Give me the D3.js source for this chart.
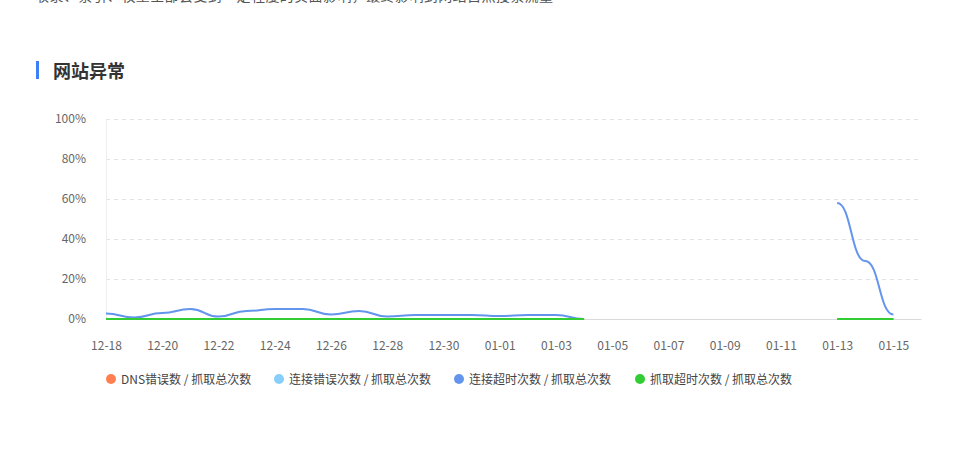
<!DOCTYPE html>
<html><head><meta charset="utf-8">
<script src="https://cdn.jsdelivr.net/npm/d3@7/dist/d3.min.js"></script>
<style>
html,body{margin:0;padding:0;background:#fff;}
svg{display:block;font-family:"Noto Sans CJK SC","Noto Sans",sans-serif;}
</style></head><body>
<svg id="c" width="979" height="457"></svg>
<script>
const categories = ["12-18","12-19","12-20","12-21","12-22","12-23","12-24","12-25","12-26","12-27","12-28","12-29","12-30","12-31","01-01","01-02","01-03","01-04","01-05","01-06","01-07","01-08","01-09","01-10","01-11","01-12","01-13","01-14","01-15","01-16"];
const dnsErr     = [0,0,0,0,0,0,0,0,0,0,0,0,0,0,0,0,0,0,null,null,null,null,null,null,null,null,0,0,0,null];
const connErr    = [0,0,0,0,0,0,0,0,0,0,0,0,0,0,0,0,0,0,null,null,null,null,null,null,null,null,0,0,0,null];
const connTimeout= [2.7,0.8,3,5,1.2,4,5,5,2.3,4,1.2,2,2,2,1.5,2,2,0,null,null,null,null,null,null,null,null,58,29,2.3,null];
const fetchTimeout=[0,0,0,0,0,0,0,0,0,0,0,0,0,0,0,0,0,0,null,null,null,null,null,null,null,null,0,0,0,null];
const yTicks = [0,20,40,60,80,100];
const seriesNames = ["DNS错误数 / 抓取总次数","连接错误次数 / 抓取总次数","连接超时次数 / 抓取总次数","抓取超时次数 / 抓取总次数"];
const seriesColors = ["#ff7f50","#87cefa","#6495ed","#32cd32"];
const title = "网站异常";
const topText = "收录、索引、权重全部会受到一定程度的负面影响，最终影响到网站自然搜索流量";

const svg = d3.select("#c");
const pLeft = 106, pRight = 921.5, pTop = 119, pBottom = 319;

// cut-off top text (the reference is scrolled so only its lower edge shows)
svg.append("text").attr("x",35).attr("y",1).attr("font-size",14).attr("fill","#555")
  .attr("textLength",518).attr("lengthAdjust","spacing").text(topText);

// title
svg.append("rect").attr("x",36).attr("y",61).attr("width",3).attr("height",18).attr("fill","#3d7ff6");
svg.append("text").attr("x",53).attr("y",78).attr("font-size",18).attr("font-weight","bold").attr("fill","#333").text(title);

const x = d3.scalePoint().domain(categories).range([pLeft, pRight]);
const y = d3.scaleLinear().domain([0,100]).range([pBottom, pTop]);

// grid
const grid = svg.append("g");
yTicks.filter(t=>t>0).forEach(t=>{
  grid.append("line").attr("x1",pLeft).attr("x2",918).attr("y1",y(t)+0.5).attr("y2",y(t)+0.5)
    .attr("stroke","#e3e3e3").attr("stroke-dasharray","4,4");
});
// y axis line
svg.append("line").attr("x1",pLeft+0.5).attr("x2",pLeft+0.5).attr("y1",pTop).attr("y2",pBottom).attr("stroke","#eeeeee");

// y axis labels
const yAxis = d3.axisLeft(y).tickValues(yTicks).tickFormat(d=>d+"%").tickSize(0).tickPadding(20);
const gy = svg.append("g").attr("transform",`translate(${pLeft},0)`).call(yAxis);
gy.select(".domain").remove();
gy.selectAll("text").attr("font-size",12).attr("fill","#666").attr("font-family","'Noto Sans CJK SC',sans-serif");

// x axis
svg.append("line").attr("x1",pLeft).attr("x2",pRight).attr("y1",pBottom+0.5).attr("y2",pBottom+0.5).attr("stroke","#d9d9d9");
const xAxis = d3.axisBottom(x).tickValues(categories.filter((d,i)=>i%2===0)).tickSize(0).tickPadding(22);
const gx = svg.append("g").attr("transform",`translate(0,${pBottom})`).call(xAxis);
gx.select(".domain").remove();
gx.selectAll("text").attr("font-size",12).attr("fill","#666").attr("font-family","'Noto Sans CJK SC',sans-serif");

// lines
const allSeries = [dnsErr, connErr, connTimeout, fetchTimeout];
const line = d3.line()
  .defined(d=>d!==null)
  .x((d,i)=>x(categories[i]))
  .y(d=>y(d))
  .curve(d3.curveBumpX);
allSeries.forEach((s,k)=>{
  svg.append("path").attr("d",line(s)).attr("fill","none").attr("stroke",seriesColors[k]).attr("stroke-width",2);
});

// legend
const legendX = [111,279,459,640];
const lg = svg.append("g");
seriesNames.forEach((n,i)=>{
  lg.append("circle").attr("cx",legendX[i]).attr("cy",379).attr("r",5).attr("fill",seriesColors[i]);
  lg.append("text").attr("x",legendX[i]+10).attr("y",383.5).attr("font-size",12).attr("fill","#444").text(n);
});
</script>
</body></html>
